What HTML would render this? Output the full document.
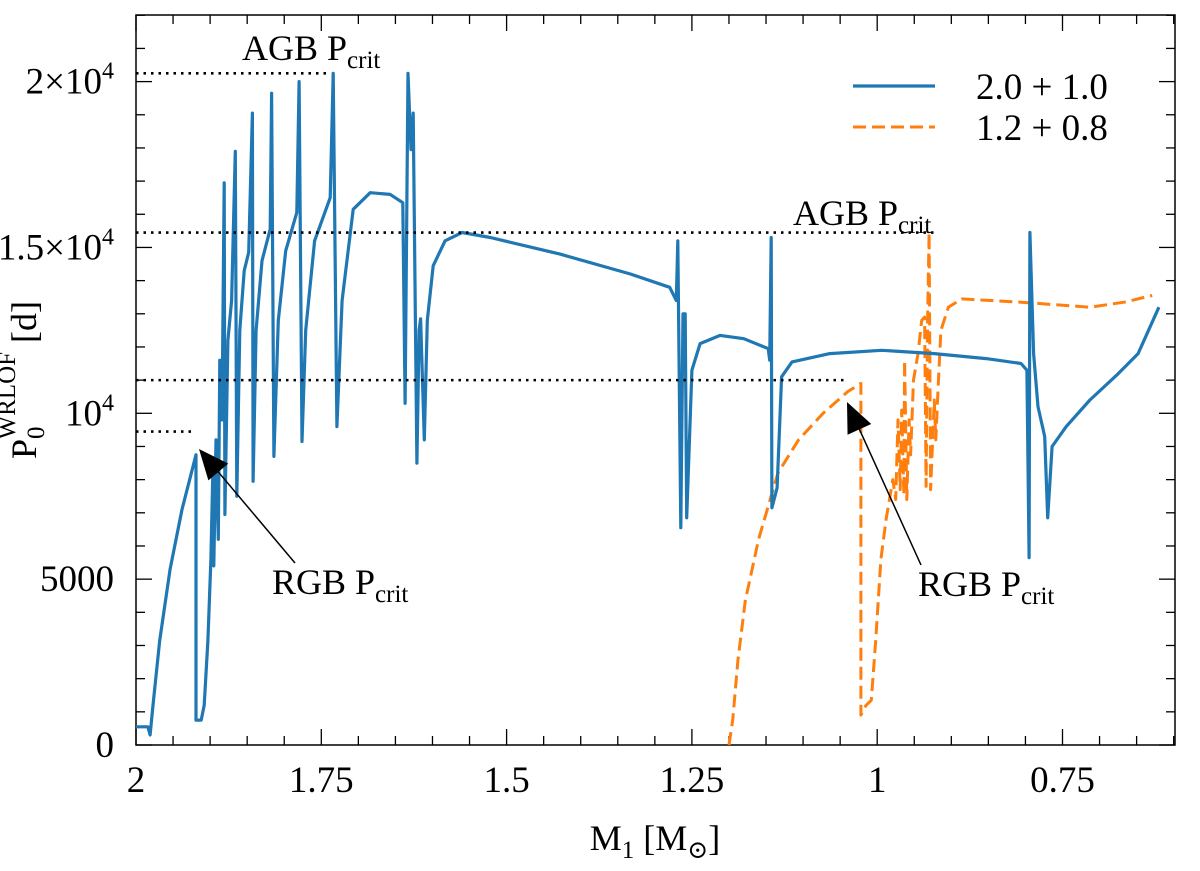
<!DOCTYPE html>
<html><head><meta charset="utf-8"><style>
body{margin:0;background:#fff}
svg text{font-family:"Liberation Serif","DejaVu Serif",serif;fill:#000}
</style></head><body>
<svg id="chart" width="1200" height="866" viewBox="0 0 1200 866" xmlns="http://www.w3.org/2000/svg">
<g id="grid"></g>
<g id="series"></g>
<g id="annot"></g>
</svg>
<script>
const xTicks=[2,1.75,1.5,1.25,1,0.75];
const xTickLabels=["2","1.75","1.5","1.25","1","0.75"];
const yTicks=[0,5000,10000,15000,20000];
const critLevels=[20250,15450,11000,9450];
const critEnds=[1.738,0.920,1.040,1.922];
const blueM=[2.000,1.984,1.981,1.977,1.968,1.954,1.938,1.919,1.919,1.912,1.908,1.903,1.899,1.896,1.895,1.892,1.889,1.887,1.884,1.881,1.880,1.876,1.871,1.866,1.864,1.860,1.854,1.848,1.843,1.842,1.838,1.830,1.819,1.817,1.814,1.808,1.798,1.783,1.780,1.776,1.771,1.759,1.738,1.734,1.729,1.722,1.707,1.684,1.657,1.640,1.637,1.633,1.629,1.626,1.621,1.618,1.616,1.611,1.607,1.599,1.583,1.560,1.522,1.428,1.333,1.280,1.271,1.269,1.265,1.262,1.259,1.257,1.250,1.239,1.212,1.180,1.147,1.145,1.143,1.142,1.135,1.129,1.115,1.064,0.994,0.923,0.853,0.806,0.798,0.795,0.794,0.789,0.783,0.774,0.770,0.764,0.745,0.713,0.677,0.648,0.620];
const blueP=[550,550,300,1200,3150,5300,7100,8750,750,750,1200,3150,5600,8600,5400,9200,6200,11600,9800,16950,6950,12200,13400,17900,7500,12500,14300,14850,19050,7950,12500,14600,15550,19650,8700,12800,14900,16050,20000,9150,12500,15200,16500,20250,9600,13400,16150,16650,16600,16350,10300,20250,17950,19050,8500,12500,12850,9200,12800,14450,15200,15450,15300,14800,14200,13800,13400,15200,6550,13000,13000,6850,11300,12100,12350,12250,11950,11600,15300,7150,7750,11100,11550,11800,11900,11800,11650,11500,11300,5650,15450,11800,10200,9300,6850,9000,9600,10400,11150,11800,13200];
const orangeM=[1.200,1.195,1.188,1.178,1.160,1.134,1.106,1.073,1.040,1.022,1.022,1.015,1.008,1.002,0.995,0.988,0.979,0.975,0.972,0.969,0.967,0.964,0.963,0.960,0.957,0.955,0.951,0.945,0.940,0.936,0.934,0.932,0.930,0.928,0.923,0.921,0.918,0.914,0.904,0.886,0.806,0.713,0.667,0.629];
const orangeP=[0,750,2550,4350,6200,8200,9200,10000,10650,10900,900,1200,1350,3150,5600,6800,8000,7400,9800,7700,10100,7550,11600,7400,9800,8750,11000,11800,12800,12900,7800,12800,15450,7700,10400,9200,10700,12500,13200,13450,13350,13200,13350,13550];

const L=136,R=1175,T=15,B=745;
const X=m=>L+(2-m)*741.2;
const Y=p=>B-p*0.03317;
const NS="http://www.w3.org/2000/svg";
function mk(tag,attrs,parent){const e=document.createElementNS(NS,tag);for(const k in attrs)e.setAttribute(k,attrs[k]);parent.appendChild(e);return e;}
const grid=document.getElementById('grid'),ser=document.getElementById('series'),an=document.getElementById('annot');

const fr=mk('rect',{x:L,y:T,width:R-L,height:B-T,fill:'none',stroke:'#000','stroke-width':1.5},grid);



for(let i=0;i<=28;i++){const m=2-i*0.05;if(m<0.6-1e-9)break;const x=X(m);const major=i%5===0;const len=major?16:9;
 const t1=mk('line',{x1:x,y1:B,x2:x,y2:B-len,stroke:'#000','stroke-width':1.3},grid);
 
 
 const t2=mk('line',{x1:x,y1:T,x2:x,y2:T+len,stroke:'#000','stroke-width':1.3},grid);
 
 }
xTicks.forEach((m,i)=>{const t=mk('text',{x:X(m),y:792,'font-size':37,'text-anchor':'middle'},grid);t.textContent=xTickLabels[i];
 
 });
for(let p=0;p<=22000;p+=1000){const y=Y(p);const major=p%5000===0;const len=major?16:9;
 const t1=mk('line',{x1:L,y1:y,x2:L+len,y2:y,stroke:'#000','stroke-width':1.3},grid);
 
 
 const t2=mk('line',{x1:R,y1:y,x2:R-len,y2:y,stroke:'#000','stroke-width':1.3},grid);
 
 }
yTicks.forEach(p=>{const t=mk('text',{x:114,y:Y(p)+12,'font-size':37,'text-anchor':'end'},grid);
 
 
 if(p===0||p===5000){t.textContent=String(p);}
 else{const c=p/10000;const pre=c===1?'':(c===1.5?'1.5×':'2×');t.textContent=pre+'10';
  const s=mk('tspan',{dy:-15,'font-size':24},t);s.textContent='4';}});

critLevels.forEach((p,i)=>{const d=mk('line',{x1:L,y1:Y(p),x2:X(critEnds[i]),y2:Y(p),stroke:'#000','stroke-width':2.6,'stroke-dasharray':'2.5 5'},an);
 
 });

function path(M,P,attrs,name){let d='';M.forEach((m,i)=>{d+=(i?'L':'M')+X(m).toFixed(1)+' '+Y(P[i]).toFixed(1);});
 const p=mk('path',Object.assign({d:d,fill:'none','stroke-linejoin':'round'},attrs),ser);
 
 }
path(orangeM,orangeP,{stroke:'#ff7f0e','stroke-width':3,'stroke-dasharray':'13 6'},'series-1.2-0.8');
path(blueM,blueP,{stroke:'#1f77b4','stroke-width':3.2},'series-2.0-1.0');

function lab(x,y,main,sub,name){const t=mk('text',{x:x,y:y,'font-size':36},an);t.textContent=main;
 const s=mk('tspan',{dy:8,'font-size':25},t);s.textContent=sub;
 
 return t;}
lab(242,60,'AGB P','crit','agb-pcrit-label-1');
lab(793,225,'AGB P','crit','agb-pcrit-label-2');
lab(272,594,'RGB P','crit','rgb-pcrit-label-1');
lab(918,596,'RGB P','crit','rgb-pcrit-label-2');
function arrow(x1,y1,x2,y2,name){const a=mk('g',{},an);
 
 
 const ang=Math.atan2(y2-y1,x2-x1);const hl=30,hw=13;const bx=x2-hl*Math.cos(ang),by=y2-hl*Math.sin(ang);
 mk('line',{x1:x1,y1:y1,x2:bx,y2:by,stroke:'#000','stroke-width':1.5},a);
 const nx=-Math.sin(ang),ny=Math.cos(ang);
 mk('polygon',{points:`${x2},${y2} ${bx+nx*hw},${by+ny*hw} ${bx-nx*hw},${by-ny*hw}`,fill:'#000'},a);}
arrow(295,563,199,449,'rgb-arrow-1');
arrow(921,565,847,402,'rgb-arrow-2');

const lg=mk('g',{},an);


const l1=mk('line',{x1:853,y1:86,x2:935,y2:86,stroke:'#1f77b4','stroke-width':3.2},lg);


const l2=mk('line',{x1:853,y1:127,x2:935,y2:127,stroke:'#ff7f0e','stroke-width':3,'stroke-dasharray':'13 6'},lg);


const t1=mk('text',{x:976,y:99,'font-size':37},lg);t1.textContent='2.0 + 1.0';


const t2=mk('text',{x:976,y:140,'font-size':37},lg);t2.textContent='1.2 + 0.8';



const xt=mk('text',{x:655,y:850,'font-size':36,'text-anchor':'middle'},an);


xt.appendChild(document.createTextNode('M'));
const xs=mk('tspan',{dy:8,'font-size':25},xt);xs.textContent='1';
const xr=mk('tspan',{dy:-8},xt);xr.textContent=' [M';
const xs2=mk('tspan',{dy:8,'font-size':25},xt);xs2.textContent='⊙';
const xr2=mk('tspan',{dy:-8},xt);xr2.textContent=']';
const yt=mk('text',{x:0,y:0,'font-size':36,'text-anchor':'middle',transform:'translate(36,380) rotate(-90)'},an);


yt.appendChild(document.createTextNode('P'));
const ys=mk('tspan',{dy:8,'font-size':25},yt);ys.textContent='0';
const ysu=mk('tspan',{dx:-13,dy:-29,'font-size':25},yt);ysu.textContent='WRLOF';
const yr=mk('tspan',{dy:21},yt);yr.textContent=' [d]';
</script>
</body></html>
